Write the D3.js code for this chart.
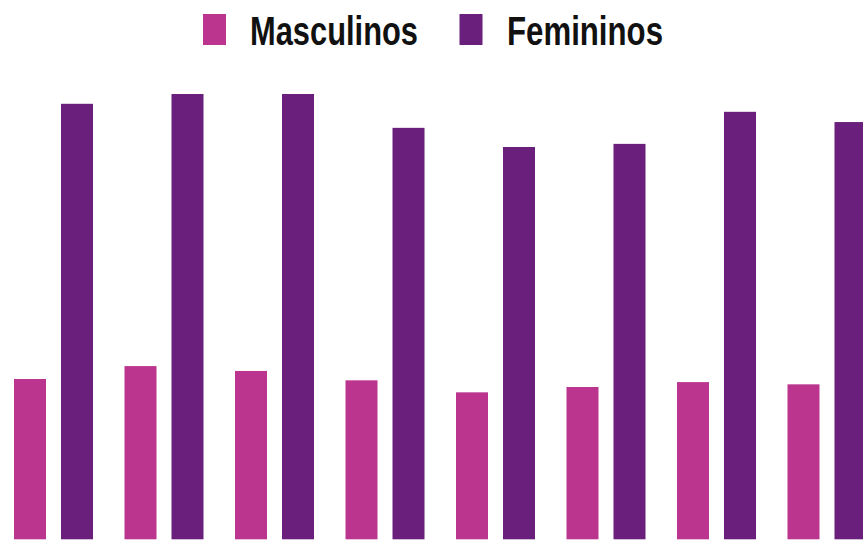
<!DOCTYPE html>
<html>
<head>
<meta charset="utf-8">
<script src="https://cdn.jsdelivr.net/npm/d3@7"></script>
<style>
 html,body{margin:0;padding:0;background:#fff;overflow:hidden;}
 svg{display:block;}
</style>
</head>
<body>
<svg id="chart" width="863" height="542"></svg>
<script>
// groups (labels are not shown in the picture)
const categories=["1","2","3","4","5","6","7","8"];
const series=["Masculinos","Femininos"];
const masculinos=[36.0,38.9,37.8,35.7,33.0,34.2,35.3,34.8];
const femininos=[97.8,100,100,92.4,88.1,88.8,96.0,93.7];
const colors=["#bb348e","#6a1f7c"];

const width=863,height=542;
const svg=d3.select("#chart");

const rows=categories.map((name,i)=>({name,values:[masculinos[i],femininos[i]]}));

// outer band per group, inner band per series
const x0=d3.scaleBand().domain(categories).range([14,866.5]).paddingInner(0.285).paddingOuter(0).align(0);
const x1=d3.scaleBand().domain(series).range([0,x0.bandwidth()]).paddingInner(15/47);
const y=d3.scaleLinear().domain([0,100]).range([539.3,94]);
const color=d3.scaleOrdinal().domain(series).range(colors);

svg.append("g")
 .selectAll("g")
 .data(rows)
 .join("g")
 .attr("transform",d=>`translate(${x0(d.name)},0)`)
 .selectAll("rect")
 .data(d=>series.map((s,i)=>({s,v:d.values[i]})))
 .join("rect")
 .attr("x",d=>x1(d.s))
 .attr("width",x1.bandwidth())
 .attr("y",d=>y(d.v))
 .attr("height",d=>y(0)-y(d.v))
 .attr("fill",d=>color(d.s));

// legend
const legend=[{s:"Masculinos",box:203,text:250,len:168},{s:"Femininos",box:459.5,text:507,len:156}];
const lg=svg.append("g").attr("class","legend");
lg.selectAll("rect")
 .data(legend)
 .join("rect")
 .attr("x",d=>d.box)
 .attr("y",14)
 .attr("width",23)
 .attr("height",31)
 .attr("fill",d=>color(d.s));
lg.selectAll("text")
 .data(legend)
 .join("text")
 .attr("x",d=>d.text)
 .attr("y",45)
 .attr("textLength",d=>d.len)
 .attr("lengthAdjust","spacingAndGlyphs")
 .style("font-family","'Liberation Sans Narrow','Liberation Sans',Arial,sans-serif")
 .style("font-weight","bold")
 .style("font-size","41px")
 .style("fill","#111")
 .text(d=>d.s);
</script>
</body>
</html>
